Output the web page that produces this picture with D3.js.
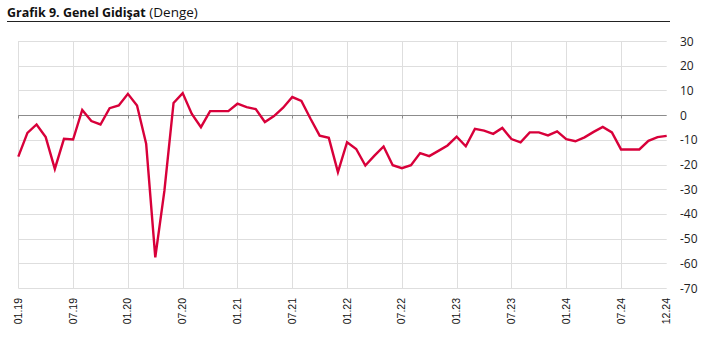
<!DOCTYPE html>
<html>
<head>
<meta charset="utf-8">
<script src="https://cdn.jsdelivr.net/npm/d3@7"></script>
<style>
  html, body { margin: 0; padding: 0; background: #fff; }
  svg { display: block; }
</style>
</head>
<body>
<svg id="chart" width="712" height="347"></svg>
<script>
// Monthly balance series, 01.19 – 12.24
const months = [
  "01.19","02.19","03.19","04.19","05.19","06.19","07.19","08.19","09.19","10.19","11.19","12.19",
  "01.20","02.20","03.20","04.20","05.20","06.20","07.20","08.20","09.20","10.20","11.20","12.20",
  "01.21","02.21","03.21","04.21","05.21","06.21","07.21","08.21","09.21","10.21","11.21","12.21",
  "01.22","02.22","03.22","04.22","05.22","06.22","07.22","08.22","09.22","10.22","11.22","12.22",
  "01.23","02.23","03.23","04.23","05.23","06.23","07.23","08.23","09.23","10.23","11.23","12.23",
  "01.24","02.24","03.24","04.24","05.24","06.24","07.24","08.24","09.24","10.24","11.24","12.24"
];
const balance = [
  -16.8, -7.2, -3.8, -8.9, -21.8, -9.6, -9.9, 2.1, -2.4, -3.8, 2.8, 3.9,
  8.6, 3.9, -11.6, -57.6, -30.6, 4.9, 8.9, 0.5, -4.9, 1.6, 1.6, 1.6,
  4.6, 3.2, 2.4, -2.8, -0.4, 3.0, 7.3, 5.7, -1.5, -8.3, -9.2, -23.1,
  -11.0, -13.7, -20.4, -16.4, -12.7, -20.3, -21.5, -20.3, -15.4, -16.6, -14.5, -12.3,
  -8.7, -12.6, -5.6, -6.3, -7.6, -5.2, -9.7, -11.0, -7.0, -7.0, -8.2, -6.6,
  -9.7, -10.6, -9.0, -6.8, -4.8, -7.0, -13.9, -13.9, -13.9, -10.4, -8.9, -8.4
];
const xTickLabels = ["01.19","07.19","01.20","07.20","01.21","07.21","01.22","07.22","01.23","07.23","01.24","07.24","12.24"];
const gridMonths  = ["01.19","07.19","01.20","07.20","01.21","07.21","01.22","07.22","01.23","07.23","01.24","07.24"];
const yTicks = [30, 20, 10, 0, -10, -20, -30, -40, -50, -60, -70];

const svg = d3.select("#chart");
const plotLeft = 18.3, plotRight = 666.7, plotTop = 41, plotBottom = 288;

const x = d3.scalePoint().domain(months).range([plotLeft, plotRight]);
const y = d3.scaleLinear().domain([-70, 30]).range([plotBottom, plotTop]);

// Title and rule
const title = svg.append("text")
  .attr("x", 7).attr("y", 17)
  .style("font-family", "'Open Sans', sans-serif")
  .attr("fill", "#111");
title.append("tspan").attr("font-weight", "bold").style("font-size", "12.5px").text("Grafik 9. Genel Gidişat");
title.append("tspan").style("font-size", "13.5px").text(" (Denge)");
svg.append("line")
  .attr("x1", 7).attr("x2", 670).attr("y1", 21.5).attr("y2", 21.5)
  .attr("stroke", "#222").attr("stroke-width", 1);

// Horizontal grid lines
svg.append("g")
  .selectAll("line")
  .data(yTicks.filter(d => d !== 0))
  .join("line")
  .attr("x1", plotLeft).attr("x2", plotRight)
  .attr("y1", d => Math.round(y(d)) + 0.5).attr("y2", d => Math.round(y(d)) + 0.5)
  .attr("stroke", "#dedede").attr("stroke-width", 1);

// Vertical grid lines
svg.append("g")
  .selectAll("line")
  .data(gridMonths)
  .join("line")
  .attr("x1", d => Math.round(x(d)) + 0.5).attr("x2", d => Math.round(x(d)) + 0.5)
  .attr("y1", plotTop).attr("y2", plotBottom)
  .attr("stroke", "#dedede").attr("stroke-width", 1);

// Zero line with small tick marks
const y0 = Math.round(y(0)) + 0.5;
svg.append("line")
  .attr("x1", plotLeft).attr("x2", plotRight).attr("y1", y0).attr("y2", y0)
  .attr("stroke", "#8c8c8c").attr("stroke-width", 1);
svg.append("g")
  .selectAll("line")
  .data(gridMonths)
  .join("line")
  .attr("x1", d => Math.round(x(d)) + 0.5).attr("x2", d => Math.round(x(d)) + 0.5)
  .attr("y1", y0).attr("y2", y0 + 3)
  .attr("stroke", "#8c8c8c").attr("stroke-width", 1);

// Right-hand value axis labels
svg.append("g")
  .selectAll("text")
  .data(yTicks)
  .join("text")
  .attr("x", 680).attr("y", d => y(d) + 4.5)
  .style("font-family", "'Open Sans', sans-serif")
  .style("font-size", "12px")
  .attr("fill", "#222")
  .text(d => d);

// Rotated month labels
svg.append("g")
  .selectAll("text")
  .data(xTickLabels)
  .join("text")
  .attr("transform", d => `translate(${x(d) + 3.5},298) rotate(-90)`)
  .attr("text-anchor", "end")
  .style("font-family", "'Liberation Sans', Arial, sans-serif")
  .style("font-size", "10.5px")
  .attr("fill", "#111")
  .text(d => d);

// Series line
const line = d3.line()
  .x((d, i) => x(months[i]))
  .y(d => y(d));
svg.append("path")
  .datum(balance)
  .attr("d", line)
  .attr("fill", "none")
  .attr("stroke", "#d8003a")
  .attr("stroke-width", 2.4)
  .attr("stroke-linejoin", "miter");
</script>
</body>
</html>
